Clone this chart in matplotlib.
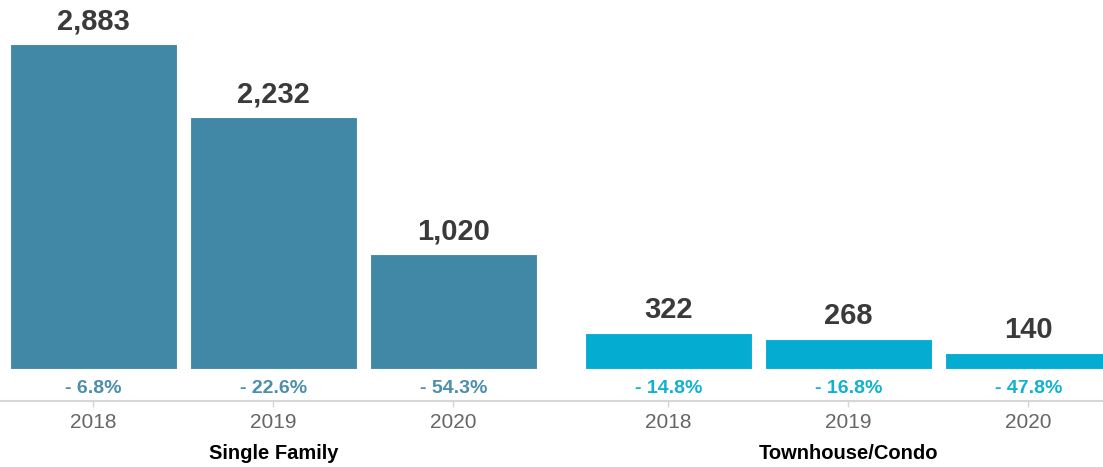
import numpy as np
import matplotlib.pyplot as plt

plt.rcParams['font.family'] = ['Liberation Sans', 'DejaVu Sans']

years = ['2018', '2019', '2020']
groups = ['Single Family', 'Townhouse/Condo']
single_family = [2883, 2232, 1020]
townhouse = [322, 268, 140]
sf_change = [-6.8, -22.6, -54.3]
th_change = [-14.8, -16.8, -47.8]

bar_colors = ['#4088a6', '#05acd1']
pct_colors = ['#4a8fab', '#12b1d3']

fig = plt.figure(figsize=(11.03, 4.67), dpi=100)
ax = fig.add_axes([0, 0.2099, 1, 0.7901])

group_gap = 1.194
width = 0.925
series = [single_family, townhouse]
changes = [sf_change, th_change]

tick_pos = []
for g, (vals, chg) in enumerate(zip(series, changes)):
    x = np.arange(len(vals)) + g * (len(vals) - 1 + group_gap)
    ax.bar(x, vals, width=width, color=bar_colors[g], edgecolor='white', linewidth=0.8)
    for xi, v, c in zip(x, vals, chg):
        ax.annotate(f'{v:,}', (xi, v), xytext=(0, 10.8), textcoords='offset points',
                    ha='center', va='baseline', fontsize=21, fontweight='bold', color='#3a3a3a')
        ax.annotate(f'- {abs(c)}%', (xi, 0), xytext=(0, -14.4), textcoords='offset points',
                    ha='center', va='center', fontsize=14, fontweight='bold', color=pct_colors[g])
    ax.annotate(groups[g], (x[1], 0), xytext=(0, -60.5), textcoords='offset points',
                ha='center', va='center', fontsize=14.5, fontweight='bold', color='black')
    tick_pos.extend(x)

ax.set_xticks(tick_pos)
ax.set_xticklabels(years * 2)
ax.tick_params(axis='x', length=4.3, width=1, color='#d6d6d6', pad=4.5,
               labelsize=15, labelcolor='#666666')
ax.tick_params(axis='y', left=False, labelleft=False)

ax.set_xlim(-0.519, 5.608)
ax.set_ylim(0, 3274)

for s in ['top', 'right', 'left']:
    ax.spines[s].set_visible(False)
ax.spines['bottom'].set_position(('outward', 22.8))
ax.spines['bottom'].set_color('#d6d6d6')
ax.spines['bottom'].set_linewidth(1.5)

fig.savefig('out.png', dpi=100)
